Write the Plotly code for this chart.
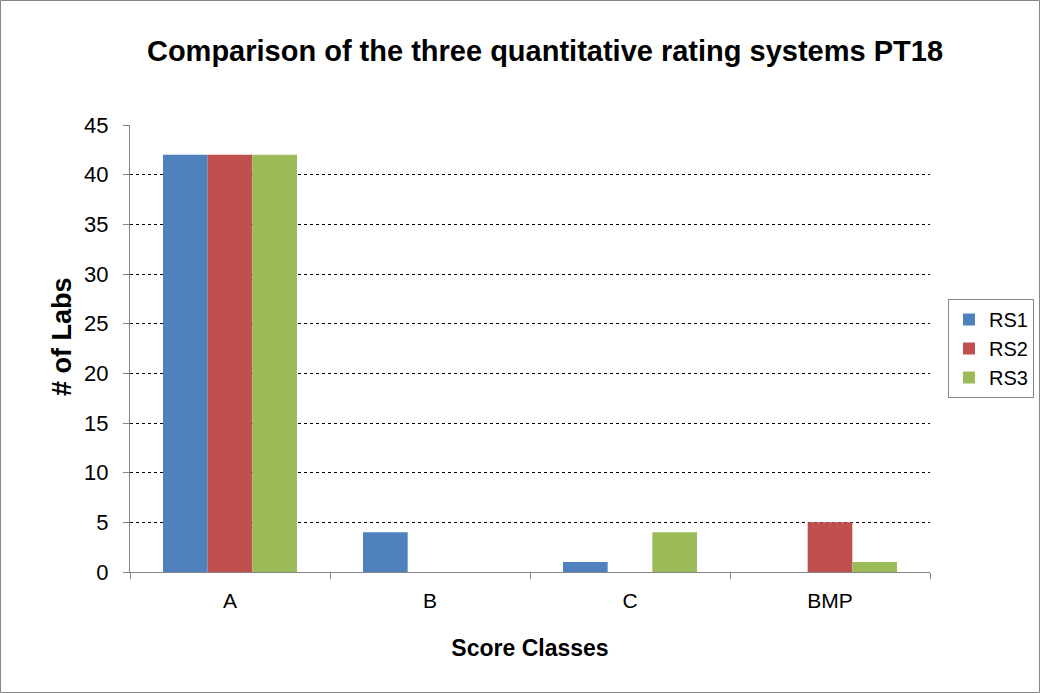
import plotly.graph_objects as go

categories = ["A", "B", "C", "BMP"]
series_names = ["RS1", "RS2", "RS3"]
rs1 = [42, 4, 1, 0]
rs2 = [42, 0, 0, 5]
rs3 = [42, 0, 4, 1]
colors = ["#4F81BD", "#C0504D", "#9BBB59"]

FONT = "Liberation Sans, Arial, sans-serif"

fig = go.Figure()
for name, vals, col in zip(series_names, [rs1, rs2, rs3], colors):
    fig.add_trace(go.Bar(x=categories, y=vals, name=name, marker_color=col,
                         marker_line_width=0))

W, H = 1040, 693
L, R, T, B = 130, 110, 125, 121
pw, ph = W - L - R, H - T - B

fig.update_layout(
    width=W, height=H,
    margin=dict(l=L, r=R, t=T, b=B, autoexpand=False),
    paper_bgcolor="white", plot_bgcolor="white",
    barmode="group", bargap=0.33, bargroupgap=0,
    font=dict(family=FONT, size=20, color="black"),
    title=dict(text="<b>Comparison of the three quantitative rating systems PT18</b>",
               x=(545 - L) / pw, xref="paper", xanchor="center",
               y=1 - 51 / H, yanchor="middle",
               font=dict(size=29, family=FONT, color="black")),
    xaxis=dict(
        title=dict(text="<b>Score Classes</b>", font=dict(size=23), standoff=28),
        showline=True, linecolor="#868686", linewidth=1,
        ticks="outside", tickson="boundaries", ticklen=6, tickcolor="#868686",
        tickfont=dict(size=21), ticklabelstandoff=10, showgrid=False,
    ),
    yaxis=dict(
        range=[0, 45], dtick=5, tick0=0,
        showline=True, linecolor="#868686", linewidth=1,
        ticks="outside", ticklen=6, tickcolor="#868686",
        tickfont=dict(size=22), ticklabelstandoff=10,
        showgrid=True, gridcolor="black", griddash="dot", gridwidth=1,
        zeroline=False,
    ),
    legend=dict(
        x=(948 - L) / pw, xanchor="left", y=(572 - 299) / ph, yanchor="top",
        bordercolor="#868686", borderwidth=1, bgcolor="white",
        font=dict(size=20), itemwidth=30, tracegroupgap=2,
    ),
    annotations=[dict(text="<b># of Labs</b>", textangle=-90,
                      xref="paper", yref="paper",
                      x=(62 - L) / pw, y=(572 - 337) / ph,
                      xanchor="center", yanchor="middle", showarrow=False,
                      font=dict(size=27, family=FONT, color="black"))],
    shapes=[dict(type="rect", xref="paper", yref="paper",
                 x0=(0.5 - L) / pw, x1=(W - 0.5 - L) / pw,
                 y0=-(H - 0.5 - (T + ph)) / ph, y1=(T + ph - 0.5) / ph,
                 line=dict(color="#868686", width=1), layer="below")],
)

fig.write_html("out.html")
